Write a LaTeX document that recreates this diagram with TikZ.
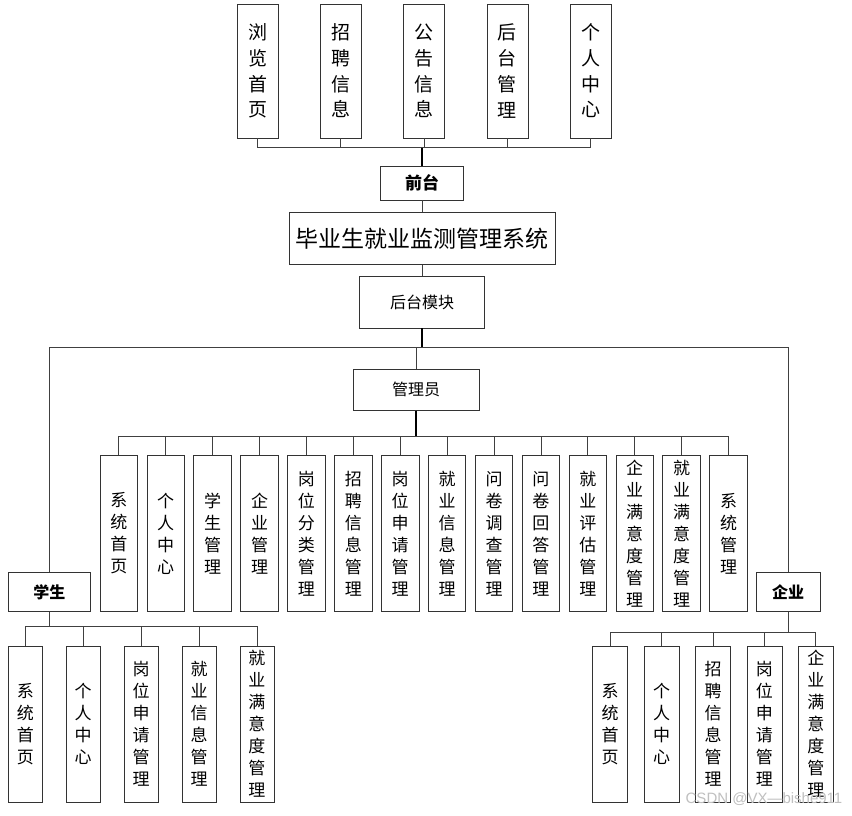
\documentclass[tikz,border=0pt]{standalone}
\usepackage{fontspec}
\newfontfamily\cjk{Noto Sans CJK SC}
\newfontfamily\wmfont{Liberation Sans}

\tikzset{
  box/.style={draw=black!80, line width=0.8pt, inner sep=0pt, align=center,
    font=\cjk\fontsize{16}{22}\selectfont},
  topbox/.style={box, minimum width=41pt, minimum height=134pt,
    font=\cjk\fontsize{19}{25.7}\selectfont},
  adminbox/.style={box, minimum width=37.5pt, minimum height=156pt,
    font=\cjk\fontsize{17}{22}\selectfont},
  leafbox/.style={box, minimum height=156pt, font=\cjk\fontsize{17}{22}\selectfont},
  line/.style={draw=black!75, line width=0.8pt},
  trunk/.style={draw=black, line width=1.6pt},
}

\begin{document}
\begin{tikzpicture}[x=1pt, y=-1pt]
  \useasboundingbox (0,0) rectangle (852,815);

  % front part
  \foreach \t [count=\i] in {{浏\\览\\首\\页}, {招\\聘\\信\\息}, {公\\告\\信\\息},
      {后\\台\\管\\理}, {个\\人\\中\\心}}
    \node[topbox] (t\i) at ({257.5+83.3*(\i-1)}, 71) {\t};
  \node[box, minimum width=83pt, minimum height=34pt,
    font=\cjk\bfseries\fontsize{17}{20}\selectfont] (front) at (422,183) {前台};
  \node[box, minimum width=266pt, minimum height=52pt,
    font=\cjk\fontsize{23}{26}\selectfont] (title) at (422,238.5) {毕业生就业监测管理系统};
  \node[box, minimum width=125pt, minimum height=52pt] (back) at (422,302) {后台模块};
  \node[box, minimum width=126pt, minimum height=41pt] (admin) at (416,389.7) {管理员};

  % admin modules
  \foreach \t [count=\i] in {{系\\统\\首\\页}, {个\\人\\中\\心}, {学\\生\\管\\理},
      {企\\业\\管\\理}, {岗\\位\\分\\类\\管\\理}, {招\\聘\\信\\息\\管\\理},
      {岗\\位\\申\\请\\管\\理}, {就\\业\\信\\息\\管\\理}, {问\\卷\\调\\查\\管\\理},
      {问\\卷\\回\\答\\管\\理}, {就\\业\\评\\估\\管\\理}, {企\\业\\满\\意\\度\\管\\理},
      {就\\业\\满\\意\\度\\管\\理}, {系\\统\\管\\理}}
    \node[adminbox] (a\i) at ({118.8+46.9*(\i-1)}, 533.5) {\t};

  \node[box, minimum width=82pt, minimum height=39pt,
    font=\cjk\bfseries\fontsize{16}{20}\selectfont] (stu) at (49.3,592) {学生};
  \node[box, minimum width=64pt, minimum height=39pt,
    font=\cjk\bfseries\fontsize{16}{20}\selectfont] (ent) at (788,592) {企业};

  % student modules
  \foreach \t [count=\i] in {{系\\统\\首\\页}, {个\\人\\中\\心}, {岗\\位\\申\\请\\管\\理},
      {就\\业\\信\\息\\管\\理}, {就\\业\\满\\意\\度\\管\\理}}
    \node[leafbox, minimum width=34pt] (s\i) at ({25.3+57.9*(\i-1)}, 724) {\t};

  % enterprise modules
  \foreach \t [count=\i] in {{系\\统\\首\\页}, {个\\人\\中\\心}, {招\\聘\\信\\息\\管\\理},
      {岗\\位\\申\\请\\管\\理}, {企\\业\\满\\意\\度\\管\\理}}
    \node[leafbox, minimum width=35pt] (e\i) at ({610.2+51.4*(\i-1)}, 724) {\t};

  % connectors
  \coordinate (tbus) at (422,147.7);
  \coordinate (mbus) at (422,347);
  \coordinate (abus) at (416,436);
  \coordinate (sbus) at (49.3,626);
  \coordinate (ebus) at (788,632.3);

  \foreach \i in {1,...,5}
    \draw[line] (t\i.south) |- (tbus);
  \draw[trunk] (front.north) -- (tbus);
  \draw[line] (front.south) -- (title.north);
  \draw[line] (title.south) -- (back.north);
  \draw[trunk] (back.south) -- (mbus);
  \draw[line] (admin.north) |- (mbus);
  \draw[line] (stu.north) |- (mbus);
  \draw[line] (ent.north) |- (mbus);
  \draw[trunk] (admin.south) -- (abus);
  \foreach \i in {1,...,14}
    \draw[line] (a\i.north) |- (abus);
  \draw[line] (stu.south) -- (sbus);
  \foreach \i in {1,...,5}
    \draw[line] (s\i.north) |- (sbus);
  \draw[line] (ent.south) -- (ebus);
  \foreach \i in {1,...,5}
    \draw[line] (e\i.north) |- (ebus);

  \node[text=black!25, font=\wmfont\fontsize{15}{15}\selectfont] (wm) at (764,799) {CSDN @VX—bishe911};
\end{tikzpicture}
\end{document}
